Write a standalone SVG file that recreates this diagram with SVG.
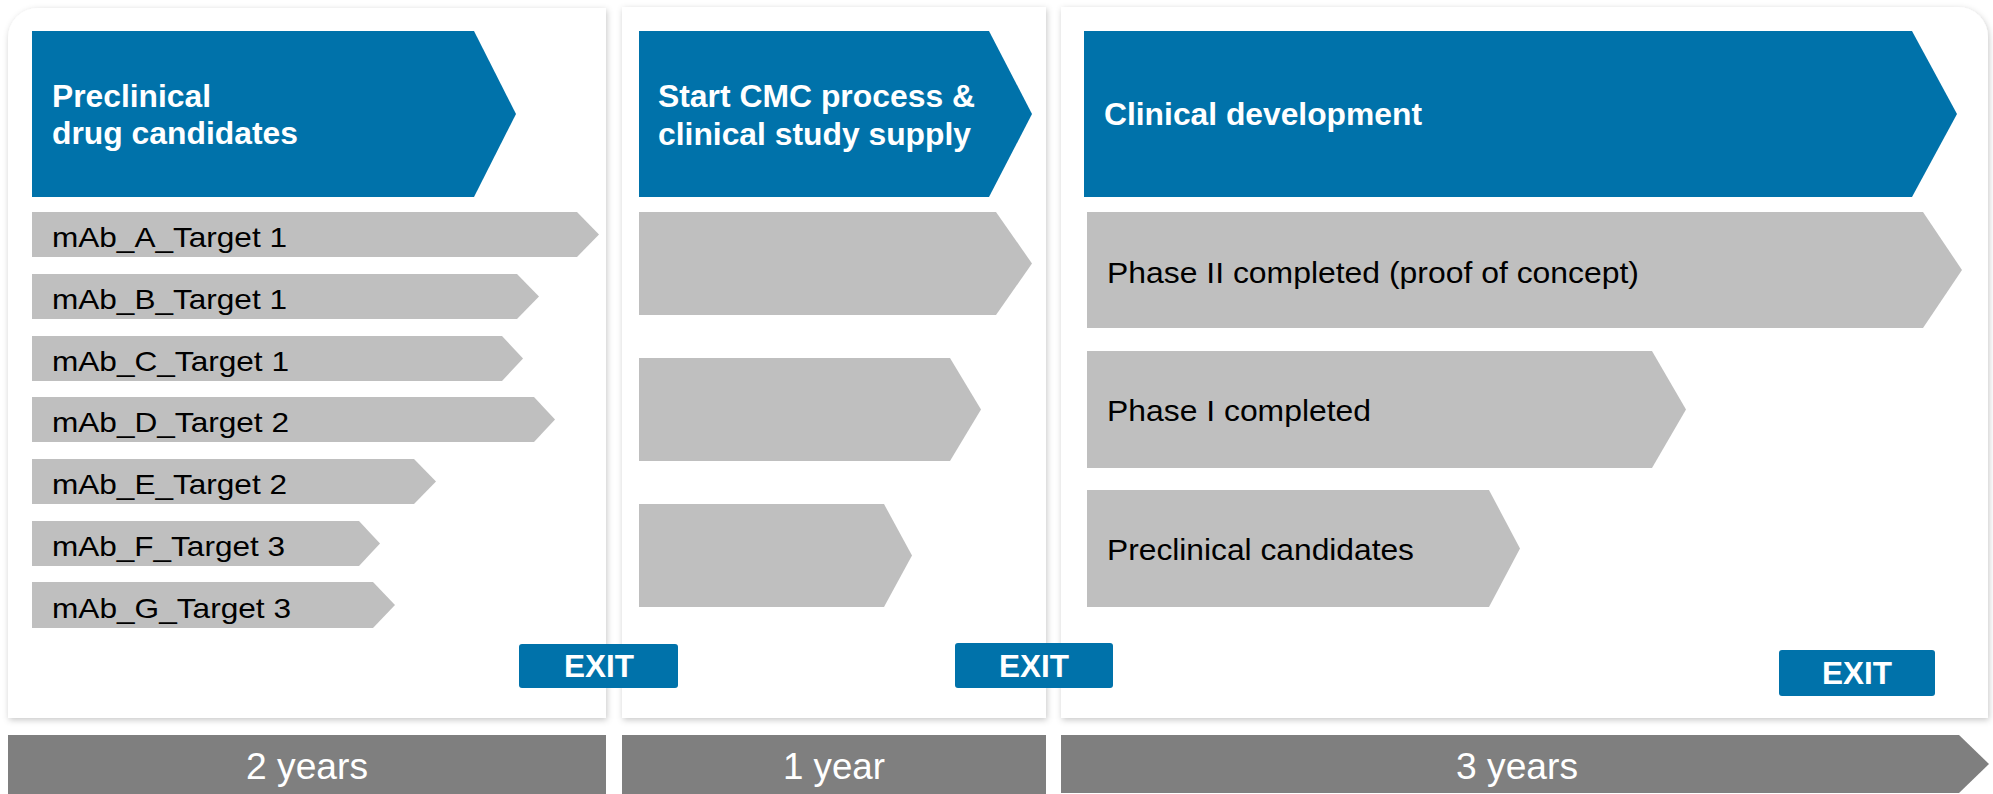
<svg xmlns="http://www.w3.org/2000/svg" width="1993" height="794" viewBox="0 0 1993 794">
  <defs>
    <filter id="panelShadow" x="-5%" y="-5%" width="110%" height="110%">
      <feDropShadow dx="1" dy="2" stdDeviation="3" flood-color="#000" flood-opacity="0.22"/>
    </filter>
    <style>
      .panel { fill: #FFFFFF; filter: url(#panelShadow); }
      .head { fill: #0072AA; }
      .bar { fill: #BFBFBF; }
      .span { fill: #7F7F7F; }
      .exit { fill: #0072AA; }
      .headText { font-family: "Liberation Sans", Arial, sans-serif; font-weight: bold; font-size: 30.5px; fill: #FFFFFF; }
      .barText { font-family: "Liberation Sans", Arial, sans-serif; font-size: 28.5px; fill: #000000; }
      .phaseText { font-family: "Liberation Sans", Arial, sans-serif; font-size: 29.5px; fill: #000000; }
      .exitText { font-family: "Liberation Sans", Arial, sans-serif; font-weight: bold; font-size: 30.5px; fill: #FFFFFF; text-anchor: middle; }
      .spanText { font-family: "Liberation Sans", Arial, sans-serif; font-size: 36px; fill: #FFFFFF; text-anchor: middle; }
    </style>
  </defs>

  <rect width="1993" height="794" fill="#FFFFFF"/>

  <!-- stage panels -->
  <g id="panel-preclinical">
    <path class="panel" d="M8,718 V38 A30,30 0 0 1 38,8 H606 V718 Z"/>
  </g>
  <g id="panel-cmc">
    <rect class="panel" x="622" y="7" width="424" height="711"/>
  </g>
  <g id="panel-clinical">
    <path class="panel" d="M1061,718 V7 H1958 A30,30 0 0 1 1988,37 V718 Z"/>
  </g>

  <!-- stage headers -->
  <g id="head-preclinical">
    <polygon class="head" points="32,31 474,31 516,114 474,197 32,197"/>
    <text class="headText" x="52" y="107" textLength="159" lengthAdjust="spacingAndGlyphs">Preclinical</text>
    <text class="headText" x="52" y="144" textLength="246" lengthAdjust="spacingAndGlyphs">drug candidates</text>
  </g>
  <g id="head-cmc">
    <polygon class="head" points="639,31 989,31 1032,114 989,197 639,197"/>
    <text class="headText" x="658" y="107" textLength="317" lengthAdjust="spacingAndGlyphs">Start CMC process &amp;</text>
    <text class="headText" x="658" y="145" textLength="313" lengthAdjust="spacingAndGlyphs">clinical study supply</text>
  </g>
  <g id="head-clinical">
    <polygon class="head" points="1084,31 1912,31 1957,114 1912,197 1084,197"/>
    <text class="headText" x="1104" y="125" textLength="318" lengthAdjust="spacingAndGlyphs">Clinical development</text>
  </g>

  <!-- preclinical candidates -->
  <g id="mab-a">
    <polygon class="bar" points="32,212 577,212 599,234.5 577,257 32,257"/>
    <text class="barText" x="52" y="247" textLength="235" lengthAdjust="spacingAndGlyphs">mAb_A_Target 1</text>
  </g>
  <g id="mab-b">
    <polygon class="bar" points="32,274 517,274 539,296.5 517,319 32,319"/>
    <text class="barText" x="52" y="309" textLength="235" lengthAdjust="spacingAndGlyphs">mAb_B_Target 1</text>
  </g>
  <g id="mab-c">
    <polygon class="bar" points="32,336 502,336 523,358.5 502,381 32,381"/>
    <text class="barText" x="52" y="371" textLength="237" lengthAdjust="spacingAndGlyphs">mAb_C_Target 1</text>
  </g>
  <g id="mab-d">
    <polygon class="bar" points="32,397 534,397 555,419.5 534,442 32,442"/>
    <text class="barText" x="52" y="432" textLength="237" lengthAdjust="spacingAndGlyphs">mAb_D_Target 2</text>
  </g>
  <g id="mab-e">
    <polygon class="bar" points="32,459 414,459 436,481.5 414,504 32,504"/>
    <text class="barText" x="52" y="494" textLength="235" lengthAdjust="spacingAndGlyphs">mAb_E_Target 2</text>
  </g>
  <g id="mab-f">
    <polygon class="bar" points="32,521 359,521 380,543.5 359,566 32,566"/>
    <text class="barText" x="52" y="556" textLength="233" lengthAdjust="spacingAndGlyphs">mAb_F_Target 3</text>
  </g>
  <g id="mab-g">
    <polygon class="bar" points="32,582 373,582 395,605 373,628 32,628"/>
    <text class="barText" x="52" y="618" textLength="239" lengthAdjust="spacingAndGlyphs">mAb_G_Target 3</text>
  </g>

  <!-- CMC supply slots -->
  <g id="cmc-1">
    <polygon class="bar" points="639,212 996,212 1032,263.5 996,315 639,315"/>
  </g>
  <g id="cmc-2">
    <polygon class="bar" points="639,358 950,358 981,409.5 950,461 639,461"/>
  </g>
  <g id="cmc-3">
    <polygon class="bar" points="639,504 884,504 912,555.5 884,607 639,607"/>
  </g>

  <!-- clinical phases -->
  <g id="phase-2">
    <polygon class="bar" points="1087,212 1923,212 1962,270 1923,328 1087,328"/>
    <text class="phaseText" x="1107" y="283" textLength="532" lengthAdjust="spacingAndGlyphs">Phase II completed (proof of concept)</text>
  </g>
  <g id="phase-1">
    <polygon class="bar" points="1087,351 1652,351 1686,409.5 1652,468 1087,468"/>
    <text class="phaseText" x="1107" y="421" textLength="264" lengthAdjust="spacingAndGlyphs">Phase I completed</text>
  </g>
  <g id="phase-pre">
    <polygon class="bar" points="1087,490 1489,490 1520,548.5 1489,607 1087,607"/>
    <text class="phaseText" x="1107" y="560" textLength="307" lengthAdjust="spacingAndGlyphs">Preclinical candidates</text>
  </g>

  <!-- exit buttons -->
  <g id="exit-1">
    <rect class="exit" x="519" y="644" width="159" height="44" rx="3"/>
    <text class="exitText" x="599" y="677" textLength="70" lengthAdjust="spacingAndGlyphs">EXIT</text>
  </g>
  <g id="exit-2">
    <rect class="exit" x="955" y="643" width="158" height="45" rx="3"/>
    <text class="exitText" x="1034" y="677" textLength="70" lengthAdjust="spacingAndGlyphs">EXIT</text>
  </g>
  <g id="exit-3">
    <rect class="exit" x="1779" y="650" width="156" height="46" rx="3"/>
    <text class="exitText" x="1857" y="684" textLength="70" lengthAdjust="spacingAndGlyphs">EXIT</text>
  </g>

  <!-- duration timeline -->
  <g id="span-2y">
    <rect class="span" x="8" y="735" width="598" height="59"/>
    <text class="spanText" x="307" y="779" textLength="122" lengthAdjust="spacingAndGlyphs">2 years</text>
  </g>
  <g id="span-1y">
    <rect class="span" x="622" y="735" width="424" height="59"/>
    <text class="spanText" x="834" y="779" textLength="102" lengthAdjust="spacingAndGlyphs">1 year</text>
  </g>
  <g id="span-3y">
    <polygon class="span" points="1061,735 1959,735 1989,764 1959,793 1061,793"/>
    <text class="spanText" x="1517" y="779" textLength="122" lengthAdjust="spacingAndGlyphs">3 years</text>
  </g>
</svg>
